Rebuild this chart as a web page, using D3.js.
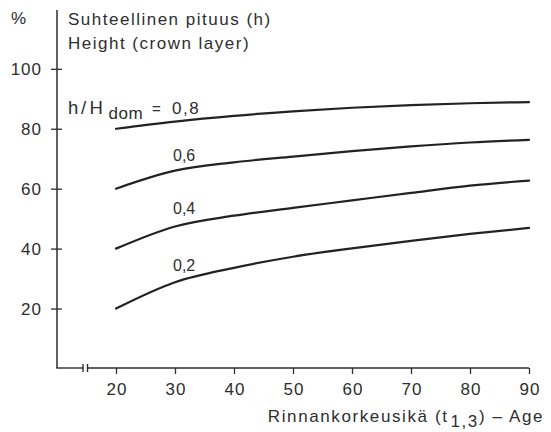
<!DOCTYPE html>
<html>
<head>
<meta charset="utf-8">
<script src="https://cdn.jsdelivr.net/npm/d3@7"></script>
<style>
  html, body { margin: 0; padding: 0; background: #fff; }
  svg text { font-family: "Liberation Sans", Arial, Helvetica, sans-serif; fill: #2e2e2e; }
</style>
</head>
<body>
<svg id="chart" width="551" height="432"></svg>
<script>
// Age (years, breast-height age)
const ages = [20, 30, 40, 50, 60, 70, 80, 90];
// Relative height of each crown layer class, % of dominant height
const ratios = ["0,8", "0,6", "0,4", "0,2"];
const h08 = [80, 82.4, 84.3, 85.8, 87.0, 87.9, 88.5, 88.9];
const h06 = [60, 66.0, 68.8, 70.7, 72.5, 74.1, 75.4, 76.3];
const h04 = [40, 47.4, 51.0, 53.6, 56.1, 58.6, 61.0, 62.7];
const h02 = [20, 28.8, 33.6, 37.3, 40.1, 42.6, 44.9, 46.9];
const xTicks = [20, 30, 40, 50, 60, 70, 80, 90];
const yTicks = [20, 40, 60, 80, 100];

const seriesList = [h08, h06, h04, h02];

const svg = d3.select("#chart");
const ink = "#2e2e2e";

const x = d3.scaleLinear().domain([20, 90]).range([116, 529]);
const y = d3.scaleLinear().domain([0, 100]).range([368.5, 68.8]);

const axisY = 368;
const axisX = 57;

// Y axis: line with ticks crossing it
const gy = svg.append("g").attr("transform", `translate(${axisX},0)`)
  .call(d3.axisLeft(y).tickValues(yTicks).tickSize(6).tickPadding(8).tickSizeOuter(0));
gy.select(".domain").remove();
gy.selectAll(".tick line").attr("x1", -6).attr("x2", 5).attr("stroke", ink).attr("stroke-width", 1.3);
gy.selectAll(".tick text").style("font-size", "17px").style("letter-spacing", "1px")
  .attr("dx", -1).attr("fill", ink);
svg.append("line").attr("x1", axisX).attr("x2", axisX).attr("y1", 10).attr("y2", axisY)
  .attr("stroke", ink).attr("stroke-width", 1.5);

// X axis with a scale break near the origin
const gx = svg.append("g").attr("transform", `translate(0,${axisY})`)
  .call(d3.axisBottom(x).tickValues(xTicks).tickSize(6).tickPadding(9).tickSizeOuter(0));
gx.select(".domain").remove();
gx.selectAll(".tick line").attr("stroke", ink).attr("stroke-width", 1.3);
gx.selectAll(".tick text").style("font-size", "17px").style("letter-spacing", "1px")
  .attr("dx", 0.5).attr("fill", ink);

const breakL = 83, breakR = 87.5;
const xl = svg.append("g").attr("stroke", ink).attr("stroke-width", 1.4).attr("fill", "none");
xl.append("line").attr("x1", axisX - 0.75).attr("x2", breakL).attr("y1", axisY).attr("y2", axisY);
xl.append("line").attr("x1", breakR).attr("x2", x(90)).attr("y1", axisY).attr("y2", axisY);
xl.append("line").attr("x1", breakL).attr("x2", breakL).attr("y1", axisY - 4).attr("y2", axisY + 4);
xl.append("line").attr("x1", breakR).attr("x2", breakR).attr("y1", axisY - 4).attr("y2", axisY + 4);

// Curves
const line = d3.line()
  .x((d, i) => x(ages[i]))
  .y(d => y(d))
  .curve(d3.curveMonotoneX);

svg.append("g").selectAll("path")
  .data(seriesList)
  .join("path")
  .attr("d", d => line(d))
  .attr("fill", "none")
  .attr("stroke", "#222")
  .attr("stroke-width", 2.2)
  .attr("stroke-linecap", "round");

// Titles
const titleStyle = sel => sel.style("font-size", "17px").style("letter-spacing", "1.5px");
svg.append("text").attr("x", 11).attr("y", 24).style("font-size", "17px").text("%");
svg.append("text").attr("x", 68).attr("y", 25).call(titleStyle).text("Suhteellinen pituus (h)");
svg.append("text").attr("x", 68).attr("y", 49).call(titleStyle).text("Height (crown layer)");

// Curve labels
const lbl = svg.append("g").style("font-size", "16px");
const t08 = lbl.append("text").attr("y", 114).style("font-size", "18.5px");
t08.append("tspan").attr("x", 68).text("h");
t08.append("tspan").attr("x", 81).text("/");
t08.append("tspan").attr("x", 89.5).text("H");
t08.append("tspan").attr("x", 108.5).attr("dy", 5).style("font-size", "17px").style("letter-spacing", "0.5px").text("dom");
t08.append("tspan").attr("x", 152).attr("dy", -5).style("font-size", "15px").text("=");
t08.append("tspan").attr("x", 172).style("font-size", "17px").style("letter-spacing", "1.5px").text(ratios[0]);

const labelPos = [null, [173, 161], [173, 214], [173, 271]];
ratios.forEach((r, i) => {
  if (i === 0) return;
  lbl.append("text").attr("x", labelPos[i][0]).attr("y", labelPos[i][1]).text(r);
});

// X axis title
const xt = svg.append("text").attr("x", 544).attr("y", 422).attr("text-anchor", "end")
  .call(titleStyle).style("letter-spacing", "1.6px");
xt.append("tspan").text("Rinnankorkeusikä (t");
xt.append("tspan").attr("dx", 2).attr("dy", 5).text("1,3");
xt.append("tspan").attr("dy", -5).text(") \u2013 Age");
</script>
</body>
</html>
